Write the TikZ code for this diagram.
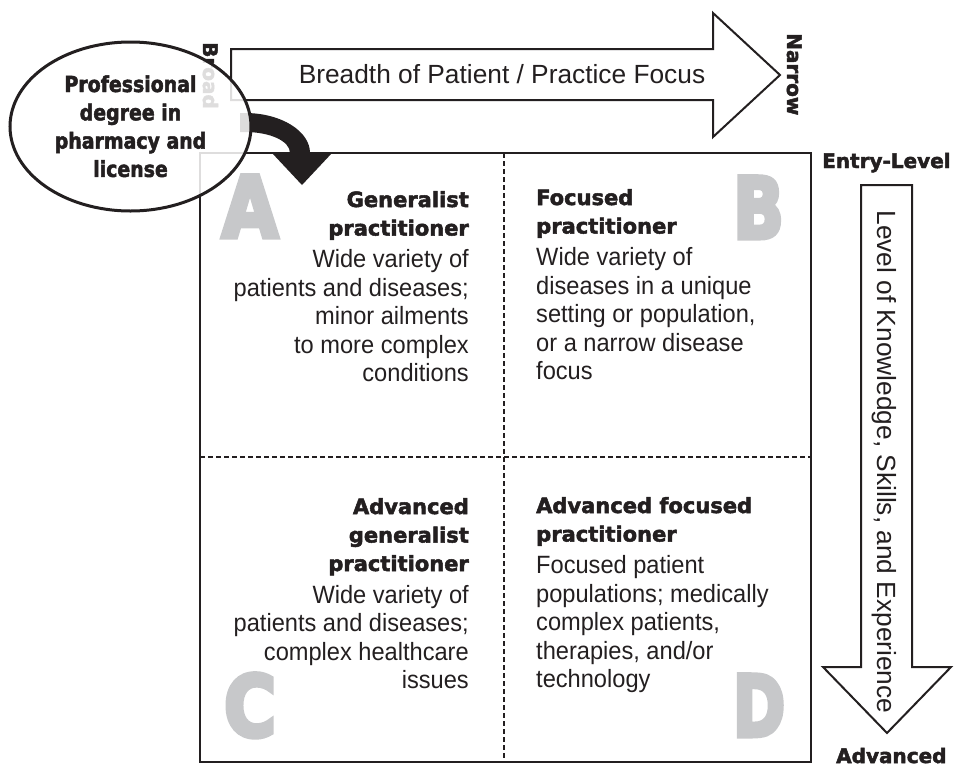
\documentclass[tikz,border=0pt]{standalone}
\usepackage{fontspec}
\usepackage{graphicx}
\usetikzlibrary{shapes.geometric}
\setmainfont{Liberation Sans}
\newfontfamily\qfont[FakeStretch=0.945]{Liberation Sans}
\newfontfamily\afont{Liberation Sans}
\newfontfamily\dvs[BoldFeatures={FakeBold=2.4}]{DejaVu Sans}
\newfontfamily\dvsheavy[BoldFeatures={FakeBold=6}]{DejaVu Sans}
\newfontfamily\dvsn[FakeStretch=0.86,BoldFeatures={FakeBold=2.2}]{DejaVu Sans}
\definecolor{inkc}{HTML}{231F20}
\definecolor{letc}{HTML}{C7C8CA}
\newcommand\qhead[1]{{\dvs\bfseries\fontsize{21}{28.5}\selectfont #1}}
\begin{document}
\begin{tikzpicture}[x=1pt,y=-1pt, line join=miter,
  ink/.style={draw=inkc, line width=2pt},
  dashline/.style={draw=inkc, line width=1.4pt, dash pattern=on 5pt off 3pt},
  quadtext/.style={inner sep=0pt, text=inkc, font=\qfont\fontsize{25}{28.5}\selectfont},
  bigletter/.style={inner sep=0pt, anchor=base, text=letc, font=\dvsheavy\bfseries\fontsize{84}{90}\selectfont},
  axislabel/.style={inner sep=0pt, text=inkc, font=\dvs\bfseries\fontsize{20}{24}\selectfont},
  arrowtext/.style={inner sep=0pt, text=inkc, font=\afont\fontsize{26.3}{30}\selectfont},
]
\useasboundingbox (0,0) rectangle (956,766);
% main box and quadrant dividers
\draw[ink] (200,153) rectangle (811,762);
\coordinate (vtop) at (504,153);
\coordinate (vbot) at (504,762);
\coordinate (hleft) at (200,457);
\coordinate (hright) at (811,457);
\draw[dashline] (vtop) -- (vbot);
\draw[dashline] (hleft) -- (hright);
% big letters
\node[bigletter] (letA) at (250,237) {\scalebox{0.86}[1]{A}};
\node[bigletter] (letB) at (758.5,238) {\scalebox{0.79}[1]{B}};
\node[bigletter] (letC) at (250,736) {\scalebox{0.84}[1]{C}};
\node[bigletter] (letD) at (759,736) {\scalebox{0.75}[1]{D}};
% quadrant texts
\node[quadtext, anchor=base east] (qa) at (469,207) {\begin{tabular}[t]{@{}r@{}}\qhead{Generalist}\\\qhead{practitioner}\\[3.5pt]Wide variety of\\patients and diseases;\\minor ailments\\to more complex\\conditions\end{tabular}};
\node[quadtext, anchor=base west] (qb) at (536,205) {\begin{tabular}[t]{@{}l@{}}\qhead{Focused}\\\qhead{practitioner}\\[3.5pt]Wide variety of\\diseases in a unique\\setting or population,\\or a narrow disease\\focus\end{tabular}};
\node[quadtext, anchor=base east] (qc) at (469,514) {\begin{tabular}[t]{@{}r@{}}\qhead{Advanced}\\\qhead{generalist}\\\qhead{practitioner}\\[3.5pt]Wide variety of\\patients and diseases;\\complex healthcare\\issues\end{tabular}};
\node[quadtext, anchor=base west] (qd) at (536,513) {\begin{tabular}[t]{@{}l@{}}\qhead{Advanced focused}\\\qhead{practitioner}\\[3.5pt]Focused patient\\populations; medically\\complex patients,\\therapies, and/or\\technology\end{tabular}};
% top arrow
\draw[ink, fill=white] (231,49) -- (713,49) -- (713,13) -- (780,75) -- (713,137) -- (713,100) -- (231,100) -- cycle;
\node[arrowtext, anchor=base] (breadth) at (502,83) {Breadth of Patient / Practice Focus};
\node[axislabel, anchor=base west, rotate=-90] (broad) at (203,42) {Broad};
\node[axislabel, anchor=base west, rotate=-90] (narrow) at (787,33) {Narrow};
% right arrow
\draw[ink, fill=white] (861,185) -- (912,185) -- (912,667) -- (951,667) -- (887,733) -- (823,667) -- (861,667) -- cycle;
\node[arrowtext, anchor=base, rotate=-90] (level) at (877,462) {Level of Knowledge, Skills, and Experience};
\node[axislabel, anchor=base west] (entry) at (822,168) {Entry-Level};
\node[axislabel, anchor=base west] (adv) at (836,763) {Advanced};
% curved arrow from ellipse into quadrant A
\fill[inkc] (240,113) -- (245,113) .. controls (281,113) and (310,131) .. (310,153) -- (332,153) -- (302,185) -- (272,153) -- (290,153) .. controls (290,141) and (270,132) .. (245,132) -- (240,132) -- cycle;
% ellipse
\node[ellipse, draw=inkc, line width=3pt, fill=white, fill opacity=0.85, draw opacity=1, minimum width=241pt, minimum height=169pt, inner sep=0pt] (degree) at (130.5,126.5) {};
\node[inner sep=0pt, anchor=base, text=inkc, font=\dvsn\bfseries\fontsize{22}{28.3}\selectfont] (degreetext) at (130.5,92) {\begin{tabular}[t]{@{}c@{}}Professional\\degree in\\pharmacy and\\license\end{tabular}};
\end{tikzpicture}
\end{document}
